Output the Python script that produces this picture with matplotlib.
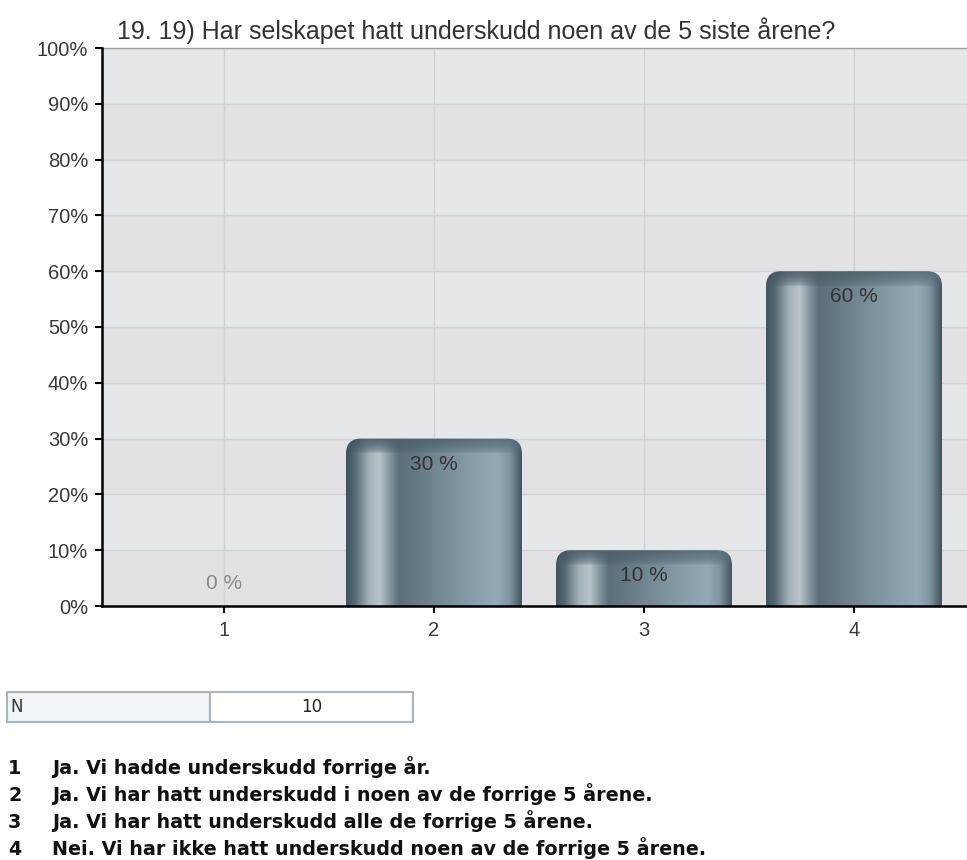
import numpy as np
import matplotlib
matplotlib.use("Agg")
import matplotlib.pyplot as plt
from matplotlib.path import Path
from matplotlib.patches import PathPatch, Rectangle
from matplotlib.colors import to_rgb

# ---- data ----
categories = ["1", "2", "3", "4"]
values = [0, 30, 10, 60]
value_labels = ["0 %", "30 %", "10 %", "60 %"]
y_ticks = list(range(0, 101, 10))
y_tick_labels = [f"{t}%" for t in y_ticks]
title = "19. 19) Har selskapet hatt underskudd noen av de 5 siste årene?"
n_label = "N"
n_value = "10"
answers = [
    "Ja. Vi hadde underskudd forrige år.",
    "Ja. Vi har hatt underskudd i noen av de forrige 5 årene.",
    "Ja. Vi har hatt underskudd alle de forrige 5 årene.",
    "Nei. Vi har ikke hatt underskudd noen av de forrige 5 årene.",
]

W, H = 967, 860
fig = plt.figure(figsize=(W / 100, H / 100), dpi=100)
fig.patch.set_facecolor("white")

ax_left, ax_right, ax_top, ax_bottom = 102, 967, 48, 606
ax = fig.add_axes([ax_left / W, 1 - ax_bottom / H, (ax_right - ax_left) / W, (ax_bottom - ax_top) / H])

x = np.arange(1, len(categories) + 1)
ax.set_xlim(0.419, 4.538)
ax.set_ylim(0, 100)

# alternating bands
for i in range(len(y_ticks) - 1):
    col = "#e5e8eb" if i % 2 == 1 else "#e2e2e4"
    ax.axhspan(y_ticks[i], y_ticks[i + 1], color=col, zorder=0, lw=0)

ax.set_axisbelow(True)
ax.grid(True, color="#d2d2d2", lw=1.0, zorder=1)

# gradient for bars
stops = [
    (0.00, "#3f525d"),
    (0.05, "#566a75"),
    (0.13, "#a4b1b8"),
    (0.19, "#bac4ca"),
    (0.26, "#7a8c96"),
    (0.30, "#5b6e79"),
    (0.60, "#7b919c"),
    (0.86, "#94aab6"),
    (0.93, "#7f96a2"),
    (1.00, "#42555e"),
]
pos = np.array([s[0] for s in stops])
cols = np.array([to_rgb(s[1]) for s in stops])
NW = 300
xs = np.linspace(0, 1, NW)
grad = np.stack([np.interp(xs, pos, cols[:, k]) for k in range(3)], axis=-1)
cap_col = np.array(to_rgb("#4b5e69"))

bar_w = 0.838
rx = 15 / 210
ry = 15 / 5.58
cap_h = 15 / 5.58

for xi, v in zip(x, values):
    if v <= 0:
        continue
    x0, x1 = xi - bar_w / 2, xi + bar_w / 2
    verts = [(x0, 0), (x0, v - ry), (x0, v), (x0 + rx, v), (x1 - rx, v),
             (x1, v), (x1, v - ry), (x1, 0), (x0, 0)]
    codes = [Path.MOVETO, Path.LINETO, Path.CURVE3, Path.CURVE3, Path.LINETO,
             Path.CURVE3, Path.CURVE3, Path.LINETO, Path.CLOSEPOLY]
    patch = PathPatch(Path(verts, codes), facecolor="none", edgecolor="none", zorder=3)
    ax.add_patch(patch)
    NH = 400
    ys = np.linspace(0, v, NH)
    d = v - ys
    w = np.clip(1 - d / cap_h, 0, 1) ** 0.5 * 0.9
    img = grad[None, :, :] * (1 - w[:, None, None]) + (cap_col * (0.92 + 0.25 * xs[:, None]))[None, :, :] * w[:, None, None]
    img = np.clip(img, 0, 1)
    im = ax.imshow(img, extent=(x0, x1, 0, v), origin="lower", aspect="auto",
                   interpolation="bilinear", zorder=3)
    im.set_clip_path(patch)

# value labels
for xi, v, lab in zip(x, values, value_labels):
    if v > 0:
        ax.text(xi, v - 4.6, lab, ha="center", va="center", fontsize=15,
                family="Liberation Sans", color="#333333", zorder=5)
    else:
        ax.text(xi, v + 4.1, lab, ha="center", va="center", fontsize=15,
                family="Liberation Sans", color="#8a8a8a", zorder=5)

ax.set_xticks(x)
ax.set_xticklabels(categories)
ax.set_yticks(y_ticks)
ax.set_yticklabels(y_tick_labels)
for lab in ax.get_xticklabels() + ax.get_yticklabels():
    lab.set_family("Liberation Sans")
    lab.set_fontsize(14.5)
    lab.set_color("#3a3a3a")
ax.tick_params(axis="y", length=5, width=1.5, pad=5, color="black")
ax.tick_params(axis="x", length=5, width=1.5, pad=6, color="black")

ax.spines["right"].set_visible(False)
ax.spines["top"].set_color("#a0a0a0")
ax.spines["top"].set_linewidth(1.0)
for s in ["left", "bottom"]:
    ax.spines[s].set_color("black")
    ax.spines[s].set_linewidth(1.8)
    ax.spines[s].set_zorder(6)

# title
fig.text(117 / W, 1 - 31 / H, title, ha="left", va="center", fontsize=18,
         family="Liberation Sans", color="#333333")

# N table
t_top, t_bot = 692, 722
fig.patches.append(Rectangle((7 / W, 1 - t_bot / H), (210 - 7) / W, (t_bot - t_top) / H,
                             transform=fig.transFigure, facecolor="#f1f4f6",
                             edgecolor="#a9b4bc", lw=1.5))
fig.patches.append(Rectangle((210 / W, 1 - t_bot / H), (413 - 210) / W, (t_bot - t_top) / H,
                             transform=fig.transFigure, facecolor="white",
                             edgecolor="#a9b4bc", lw=1.5))
fig.text(10 / W, 1 - (t_top + t_bot) / 2 / H, n_label, ha="left", va="center",
         fontsize=12, family="DejaVu Sans", color="#333344")
fig.text(312 / W, 1 - (t_top + t_bot) / 2 / H, n_value, ha="center", va="center",
         fontsize=12, family="DejaVu Sans", color="#222222")

# answer list (shared baseline per line)
line_base = [774, 801, 828, 855]
for i, (txt, yy) in enumerate(zip(answers, line_base)):
    fig.text(8 / W, 1 - yy / H, str(i + 1), ha="left", va="baseline", fontsize=13.8,
             family="DejaVu Sans", weight="bold", color="#111111")
    fig.text(52 / W, 1 - yy / H, txt, ha="left", va="baseline", fontsize=13.8,
             family="DejaVu Sans", weight="bold", color="#111111")

fig.savefig("out.png", dpi=100)
